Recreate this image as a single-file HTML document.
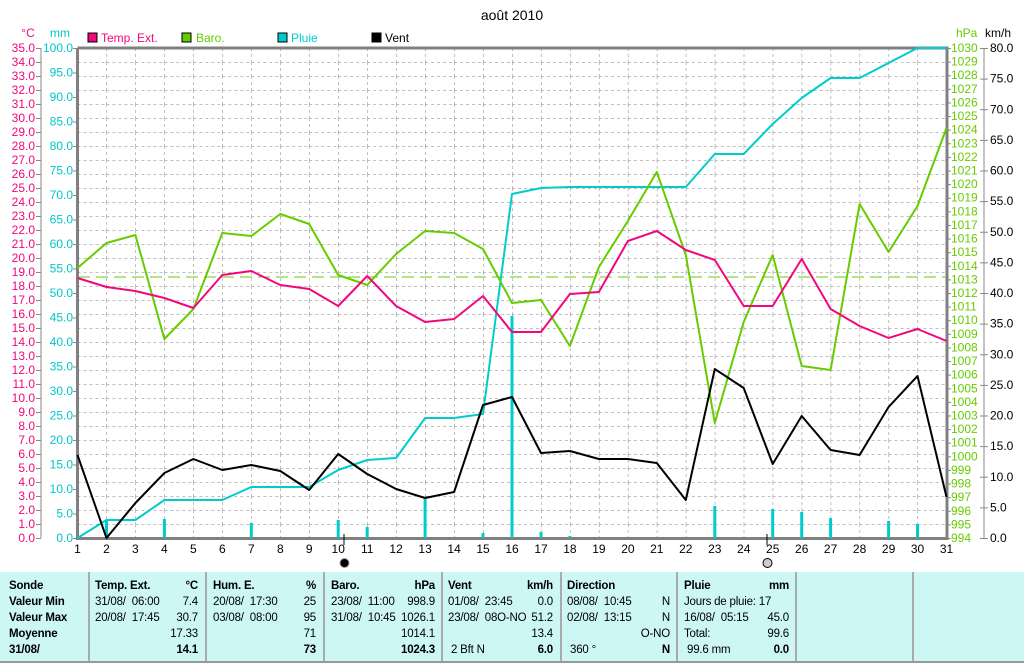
<!DOCTYPE html>
<html><head><meta charset="utf-8"><style>
body{margin:0;width:1024px;height:664px;background:#fff;overflow:hidden;font-family:"Liberation Sans",sans-serif;}
#tbl{position:absolute;left:0;top:572px;width:1024px;height:89px;background:#ccf7f5;border-bottom:2px solid #999;}
.sep{position:absolute;top:0;width:2px;height:89px;background:#aaa;}
.c{position:absolute;font-size:11.5px;line-height:16px;white-space:nowrap;color:#000;letter-spacing:-0.2px;}
.b{font-weight:bold;}
.r{text-align:right;}
</style></head><body>
<svg width="1024" height="572" style="position:absolute;left:0;top:0" font-family="Liberation Sans, sans-serif" font-size="12">
<defs><pattern id="g" x="77.5" y="48" width="28.967" height="14" patternUnits="userSpaceOnUse">
<line x1="0" y1="0" x2="0" y2="14" stroke="#808080" stroke-dasharray="3,3"/>
<line x1="0" y1="0" x2="28.967" y2="0" stroke="#808080" stroke-dasharray="3,3"/></pattern>
<pattern id="t14" x="0" y="48" width="10" height="14" patternUnits="userSpaceOnUse"><line x1="0" y1="0.5" x2="10" y2="0.5" stroke="#888"/></pattern>
<pattern id="t24" x="0" y="48" width="10" height="24.5" patternUnits="userSpaceOnUse"><line x1="0" y1="0.5" x2="10" y2="0.5" stroke="#888"/></pattern>
<pattern id="t13" x="0" y="48" width="10" height="13.611" patternUnits="userSpaceOnUse"><line x1="0" y1="0.5" x2="10" y2="0.5" stroke="#888"/></pattern>
<pattern id="t30" x="0" y="48" width="10" height="30.625" patternUnits="userSpaceOnUse"><line x1="0" y1="0.5" x2="10" y2="0.5" stroke="#888"/></pattern>
</defs>
<rect x="78" y="48" width="868" height="490" fill="url(#g)"/>
<rect x="36" y="47.5" width="5" height="492" fill="url(#t14)"/>
<rect x="73" y="47.5" width="4" height="492" fill="url(#t24)"/>
<rect x="947" y="47.5" width="4" height="492" fill="url(#t13)"/>
<rect x="980" y="47.5" width="8" height="492" fill="url(#t30)"/>
<text x="512" y="20" text-anchor="middle" font-size="14">août 2010</text>
<text x="28" y="37" fill="#f0087c" text-anchor="middle">°C</text>
<text x="60" y="37" fill="#00c8c8" text-anchor="middle">mm</text>
<text x="956" y="37" fill="#66cc00">hPa</text>
<text x="985" y="37">km/h</text>
<rect x="88" y="33" width="9" height="9" fill="#f0087c" stroke="#000"/><text x="101" y="42" fill="#f0087c">Temp. Ext.</text>
<rect x="182" y="33" width="9" height="9" fill="#66cc00" stroke="#000"/><text x="196" y="42" fill="#66cc00">Baro.</text>
<rect x="278" y="33" width="9" height="9" fill="#00cccc" stroke="#000"/><text x="291" y="42" fill="#00cccc">Pluie</text>
<rect x="372" y="33" width="9" height="9" fill="#000" stroke="#000"/><text x="385" y="42">Vent</text>
<line x1="41" y1="48" x2="41" y2="538" stroke="#888"/>
<line x1="984" y1="48" x2="984" y2="538" stroke="#888"/>
<path d="M77.5 48V538.5H947V48H77.5" fill="none" stroke="#808080" stroke-width="3"/>
<g fill="#f0087c" text-anchor="end">
<text x="35" y="542">0.0</text><text x="35" y="528">1.0</text><text x="35" y="514">2.0</text><text x="35" y="500">3.0</text><text x="35" y="486">4.0</text><text x="35" y="472">5.0</text><text x="35" y="458">6.0</text><text x="35" y="444">7.0</text><text x="35" y="430">8.0</text><text x="35" y="416">9.0</text><text x="35" y="402">10.0</text><text x="35" y="388">11.0</text><text x="35" y="374">12.0</text><text x="35" y="360">13.0</text><text x="35" y="346">14.0</text><text x="35" y="332">15.0</text><text x="35" y="318">16.0</text><text x="35" y="304">17.0</text><text x="35" y="290">18.0</text><text x="35" y="276">19.0</text><text x="35" y="262">20.0</text><text x="35" y="248">21.0</text><text x="35" y="234">22.0</text><text x="35" y="220">23.0</text><text x="35" y="206">24.0</text><text x="35" y="192">25.0</text><text x="35" y="178">26.0</text><text x="35" y="164">27.0</text><text x="35" y="150">28.0</text><text x="35" y="136">29.0</text><text x="35" y="122">30.0</text><text x="35" y="108">31.0</text><text x="35" y="94">32.0</text><text x="35" y="80">33.0</text><text x="35" y="66">34.0</text><text x="35" y="52">35.0</text>
</g>
<g fill="#00c8c8" text-anchor="end">
<text x="73" y="542">0.0</text><text x="73" y="517.5">5.0</text><text x="73" y="493">10.0</text><text x="73" y="468.5">15.0</text><text x="73" y="444">20.0</text><text x="73" y="419.5">25.0</text><text x="73" y="395">30.0</text><text x="73" y="370.5">35.0</text><text x="73" y="346">40.0</text><text x="73" y="321.5">45.0</text><text x="73" y="297">50.0</text><text x="73" y="272.5">55.0</text><text x="73" y="248">60.0</text><text x="73" y="223.5">65.0</text><text x="73" y="199">70.0</text><text x="73" y="174.5">75.0</text><text x="73" y="150">80.0</text><text x="73" y="125.5">85.0</text><text x="73" y="101">90.0</text><text x="73" y="76.5">95.0</text><text x="73" y="52">100.0</text>
</g>
<g fill="#66cc00">
<text x="951" y="542">994</text><text x="951" y="528.4">995</text><text x="951" y="514.8">996</text><text x="951" y="501.2">997</text><text x="951" y="487.6">998</text><text x="951" y="473.9">999</text><text x="951" y="460.3">1000</text><text x="951" y="446.7">1001</text><text x="951" y="433.1">1002</text><text x="951" y="419.5">1003</text><text x="951" y="405.9">1004</text><text x="951" y="392.3">1005</text><text x="951" y="378.7">1006</text><text x="951" y="365.1">1007</text><text x="951" y="351.4">1008</text><text x="951" y="337.8">1009</text><text x="951" y="324.2">1010</text><text x="951" y="310.6">1011</text><text x="951" y="297">1012</text><text x="951" y="283.4">1013</text><text x="951" y="269.8">1014</text><text x="951" y="256.2">1015</text><text x="951" y="242.6">1016</text><text x="951" y="229">1017</text><text x="951" y="215.3">1018</text><text x="951" y="201.7">1019</text><text x="951" y="188.1">1020</text><text x="951" y="174.5">1021</text><text x="951" y="160.9">1022</text><text x="951" y="147.3">1023</text><text x="951" y="133.7">1024</text><text x="951" y="120.1">1025</text><text x="951" y="106.5">1026</text><text x="951" y="92.9">1027</text><text x="951" y="79.2">1028</text><text x="951" y="65.6">1029</text><text x="951" y="52">1030</text>
</g>
<g>
<text x="990" y="542">0.0</text><text x="990" y="511.4">5.0</text><text x="990" y="480.8">10.0</text><text x="990" y="450.1">15.0</text><text x="990" y="419.5">20.0</text><text x="990" y="388.9">25.0</text><text x="990" y="358.3">30.0</text><text x="990" y="327.6">35.0</text><text x="990" y="297">40.0</text><text x="990" y="266.4">45.0</text><text x="990" y="235.8">50.0</text><text x="990" y="205.1">55.0</text><text x="990" y="174.5">60.0</text><text x="990" y="143.9">65.0</text><text x="990" y="113.3">70.0</text><text x="990" y="82.6">75.0</text><text x="990" y="52">80.0</text>
</g>
<g text-anchor="middle">
<text x="77.5" y="553">1</text><text x="106.5" y="553">2</text><text x="135.4" y="553">3</text><text x="164.4" y="553">4</text><text x="193.4" y="553">5</text><text x="222.3" y="553">6</text><text x="251.3" y="553">7</text><text x="280.3" y="553">8</text><text x="309.2" y="553">9</text><text x="338.2" y="553">10</text><text x="367.2" y="553">11</text><text x="396.1" y="553">12</text><text x="425.1" y="553">13</text><text x="454.1" y="553">14</text><text x="483" y="553">15</text><text x="512" y="553">16</text><text x="541" y="553">17</text><text x="569.9" y="553">18</text><text x="598.9" y="553">19</text><text x="627.9" y="553">20</text><text x="656.8" y="553">21</text><text x="685.8" y="553">22</text><text x="714.8" y="553">23</text><text x="743.7" y="553">24</text><text x="772.7" y="553">25</text><text x="801.7" y="553">26</text><text x="830.6" y="553">27</text><text x="859.6" y="553">28</text><text x="888.6" y="553">29</text><text x="917.5" y="553">30</text><text x="946.5" y="553">31</text>
</g>
<line x1="344" y1="534" x2="344" y2="545" stroke="#000"/><circle cx="344.5" cy="563" r="4.5" fill="#000" stroke="#999"/>
<line x1="767" y1="534" x2="767" y2="545" stroke="#000"/><circle cx="767.5" cy="563" r="4.5" fill="#ccc" stroke="#000"/>
<line x1="78" y1="277" x2="946" y2="277" stroke="#66cc00" stroke-dasharray="12,6"/>
<g stroke="#00cccc" stroke-width="3">
<line x1="106.5" y1="538" x2="106.5" y2="520"/><line x1="164.4" y1="538" x2="164.4" y2="519"/><line x1="251.3" y1="538" x2="251.3" y2="523"/><line x1="338.2" y1="538" x2="338.2" y2="520"/><line x1="367.2" y1="538" x2="367.2" y2="527"/><line x1="425.1" y1="538" x2="425.1" y2="499"/><line x1="483" y1="538" x2="483" y2="533"/><line x1="512" y1="538" x2="512" y2="316"/><line x1="541" y1="538" x2="541" y2="532"/><line x1="569.9" y1="538" x2="569.9" y2="536"/><line x1="714.8" y1="538" x2="714.8" y2="506"/><line x1="772.7" y1="538" x2="772.7" y2="509"/><line x1="801.7" y1="538" x2="801.7" y2="512"/><line x1="830.6" y1="538" x2="830.6" y2="518"/><line x1="888.6" y1="538" x2="888.6" y2="521"/><line x1="917.5" y1="538" x2="917.5" y2="524"/>
</g>
<g fill="none" stroke-width="2" stroke-linejoin="round">
<polyline stroke="#00cccc" points="77.5,538 106.5,520 135.4,520 164.4,500 193.4,500 222.3,500 251.3,487 280.3,487 309.2,487 338.2,470 367.2,460 396.1,458 425.1,418 454.1,418 483,414 512,194 541,188 569.9,187 598.9,187 627.9,187 656.8,187 685.8,187 714.8,154 743.7,154 772.7,124 801.7,98 830.6,78 859.6,78 888.6,63 917.5,48 946.5,48"/>
<polyline stroke="#66cc00" points="77.5,268 106.5,243 135.4,235 164.4,339 193.4,309 222.3,233 251.3,236 280.3,214 309.2,224 338.2,275 367.2,285 396.1,254 425.1,231 454.1,233 483,249 512,303 541,300 569.9,346 598.9,267 627.9,221 656.8,172 685.8,255 714.8,423 743.7,322 772.7,255 801.7,366 830.6,370 859.6,204 888.6,252 917.5,206 946.5,128"/>
<polyline stroke="#f0087c" points="77.5,278 106.5,287 135.4,291 164.4,298 193.4,308 222.3,275 251.3,271 280.3,285 309.2,289 338.2,306 367.2,276 396.1,306 425.1,322 454.1,319 483,296 512,332 541,332 569.9,294 598.9,292 627.9,241 656.8,231 685.8,250 714.8,260 743.7,306 772.7,306 801.7,259 830.6,309 859.6,326 888.6,338 917.5,329 946.5,341"/>
<polyline stroke="#000" points="77.5,455 106.5,538 135.4,503 164.4,473 193.4,459 222.3,470 251.3,465 280.3,471 309.2,490 338.2,454 367.2,474 396.1,489 425.1,498 454.1,492 483,405 512,397 541,453 569.9,451 598.9,459 627.9,459 656.8,463 685.8,500 714.8,369 743.7,388 772.7,464 801.7,416 830.6,450 859.6,455 888.6,407 917.5,376 946.5,497"/>
</g>
</svg>
<div id="tbl">
<div class="sep" style="left:88px"></div><div class="sep" style="left:205px"></div><div class="sep" style="left:323px"></div><div class="sep" style="left:441px"></div><div class="sep" style="left:560px"></div><div class="sep" style="left:676px"></div><div class="sep" style="left:795px"></div><div class="sep" style="left:912px"></div>
<div class="c b" style="left:9px;top:6px">Sonde<br>Valeur Min<br>Valeur Max<br>Moyenne<br>31/08/</div>
<div class="c" style="left:95px;top:6px"><b>Temp. Ext.</b><br>31/08/&nbsp; 06:00<br>20/08/&nbsp; 17:45</div>
<div class="c r" style="left:150px;width:48px;top:6px"><b>°C</b><br>7.4<br>30.7<br>17.33<br><b>14.1</b></div>
<div class="c" style="left:213px;top:6px"><b>Hum. E.</b><br>20/08/&nbsp; 17:30<br>03/08/&nbsp; 08:00</div>
<div class="c r" style="left:270px;width:46px;top:6px"><b>%</b><br>25<br>95<br>71<br><b>73</b></div>
<div class="c" style="left:331px;top:6px"><b>Baro.</b><br>23/08/&nbsp; 11:00<br>31/08/&nbsp; 10:45</div>
<div class="c r" style="left:380px;width:55px;top:6px"><b>hPa</b><br>998.9<br>1026.1<br>1014.1<br><b>1024.3</b></div>
<div class="c" style="left:448px;top:6px"><b>Vent</b><br>01/08/&nbsp; 23:45<br>23/08/&nbsp; 08O-NO<br><br>&nbsp;2 Bft N</div>
<div class="c r" style="left:510px;width:43px;top:6px"><b>km/h</b><br>0.0<br>51.2<br>13.4<br><b>6.0</b></div>
<div class="c" style="left:567px;top:6px"><b>Direction</b><br>08/08/&nbsp; 10:45<br>02/08/&nbsp; 13:15<br><br>&nbsp;360 °</div>
<div class="c r" style="left:620px;width:50px;top:6px">&nbsp;<br>N<br>N<br>O-NO<br><b>N</b></div>
<div class="c" style="left:684px;top:6px"><b>Pluie</b><br>Jours de pluie: 17<br>16/08/&nbsp; 05:15<br>Total:<br>&nbsp;99.6 mm</div>
<div class="c r" style="left:740px;width:49px;top:6px"><b>mm</b><br>&nbsp;<br>45.0<br>99.6<br><b>0.0</b></div>
</div>
</body></html>
